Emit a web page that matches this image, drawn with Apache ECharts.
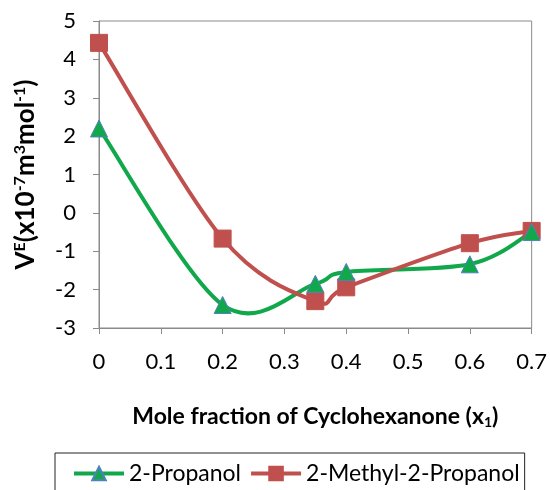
<!DOCTYPE html>
<html><head><meta charset="utf-8">
<script src="https://cdn.jsdelivr.net/npm/echarts@6/dist/echarts.min.js"></script>
<style>html,body{margin:0;padding:0;background:#fff}#c{width:550px;height:490px}</style>
</head><body><div id="c"></div>
<script>
const xValues = [0, 0.2, 0.35, 0.4, 0.6, 0.7];
const propanol = [2.2, -2.4, -1.85, -1.54, -1.34, -0.5];
const methylPropanol = [4.43, -0.67, -2.3, -1.94, -0.79, -0.47];
const seriesNames = ['2-Propanol', '2-Methyl-2-Propanol'];
const xTicks = {min: 0, max: 0.7, step: 0.1};
const yTicks = {min: -3, max: 5, step: 1};

const FONT = 'Lato, "Open Sans", sans-serif';
const GREEN = '#11a84c', RED = '#c0504d', AXIS = '#8a8a8a';
const chart = echarts.init(document.getElementById('c'), null, {renderer: 'canvas'});
const pair = (xs, ys) => xs.map((x, i) => [x, ys[i]]);

// Smooth (Excel-like, Catmull-Rom bezier) segment from point i to i+1, drawn through the axis scales
function curveRenderer(ys, color) {
  return function (params, api) {
    const i = params.dataIndex, n = xValues.length;
    if (i >= n - 1) return null;
    const P = j => api.coord([xValues[j], ys[j]]);
    const p0 = P(Math.max(i - 1, 0)), p1 = P(i), p2 = P(i + 1), p3 = P(Math.min(i + 2, n - 1));
    const t = 1 / 6;
    return {
      type: 'bezierCurve',
      shape: {
        x1: p1[0], y1: p1[1], x2: p2[0], y2: p2[1],
        cpx1: p1[0] + (p2[0] - p0[0]) * t, cpy1: p1[1] + (p2[1] - p0[1]) * t,
        cpx2: p2[0] - (p3[0] - p1[0]) * t, cpy2: p2[1] - (p3[1] - p1[1]) * t
      },
      style: {stroke: color, lineWidth: 4, fill: null, lineCap: 'round'}
    };
  };
}

chart.setOption({
  animation: false,
  backgroundColor: '#fff',
  grid: {left: 99, right: 18, top: 21, bottom: 162, show: true, borderColor: AXIS, borderWidth: 1, containLabel: false},
  xAxis: {
    type: 'value', min: xTicks.min, max: xTicks.max, interval: xTicks.step,
    name: 'Mole fraction of Cyclohexanone (x{sub|1})',
    nameLocation: 'middle', nameGap: 77,
    nameTextStyle: {fontFamily: FONT, fontSize: 23, fontWeight: 'bold', color: '#000',
      rich: {sub: {fontSize: 14, fontWeight: 'bold', fontFamily: FONT, color: '#000', verticalAlign: 'bottom', padding: [10, 0, 0, 0]}}},
    axisLine: {show: true, onZero: false, lineStyle: {color: AXIS, width: 1}},
    axisTick: {show: true, inside: false, length: 6, lineStyle: {color: AXIS}},
    axisLabel: {fontFamily: FONT, fontSize: 22, color: '#000', margin: 23},
    splitLine: {show: false}
  },
  yAxis: {
    type: 'value', min: yTicks.min, max: yTicks.max, interval: yTicks.step,
    name: 'V{sup|E}(x10{sup|-7}m{sup|3}mol{sup|-1})',
    nameLocation: 'middle', nameGap: 60,
    nameTextStyle: {fontFamily: FONT, fontSize: 26, fontWeight: 'bold', color: '#000',
      rich: {sup: {fontSize: 16, fontWeight: 'bold', fontFamily: FONT, color: '#000', verticalAlign: 'top', padding: [0, 0, 11, 0]}}},
    axisLine: {show: true, onZero: false, lineStyle: {color: AXIS, width: 1}},
    axisTick: {show: true, inside: false, length: 6, lineStyle: {color: AXIS}},
    axisLabel: {fontFamily: FONT, fontSize: 22, color: '#000', margin: 23},
    splitLine: {show: false}
  },
  legend: {
    left: 55, top: 453, width: 452,
    padding: [9, 5, 20, 17],
    itemGap: 8, itemWidth: 50, itemHeight: 17,
    borderColor: '#222', borderWidth: 1,
    textStyle: {fontFamily: FONT, fontSize: 23, color: '#000'},
    lineStyle: {opacity: 1, width: 4},
    data: seriesNames
  },
  series: [
    {
      name: seriesNames[0] + ' curve', type: 'custom', z: 1, silent: true,
      data: pair(xValues, propanol), renderItem: curveRenderer(propanol, GREEN)
    },
    {
      name: seriesNames[1] + ' curve', type: 'custom', z: 1, silent: true,
      data: pair(xValues, methylPropanol), renderItem: curveRenderer(methylPropanol, RED)
    },
    {
      name: seriesNames[0], type: 'line', z: 3,
      data: pair(xValues, propanol),
      symbol: 'triangle', symbolSize: 17,
      lineStyle: {color: GREEN, width: 4, opacity: 0},
      itemStyle: {color: GREEN, borderColor: '#4f81bd', borderWidth: 1}
    },
    {
      name: seriesNames[1], type: 'line', z: 2,
      data: pair(xValues, methylPropanol),
      symbol: 'rect', symbolSize: 17,
      lineStyle: {color: RED, width: 4, opacity: 0},
      itemStyle: {color: RED, borderColor: RED, borderWidth: 1}
    }
  ]
});
</script></body></html>
